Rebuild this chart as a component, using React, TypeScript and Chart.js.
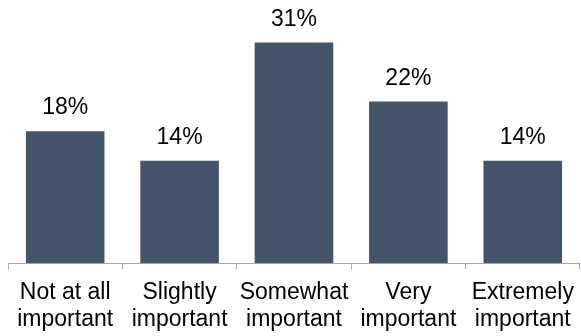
import React, { useEffect, useRef } from "react";
import { Chart, registerables } from "chart.js";

Chart.register(...registerables);

const categories: string[][] = [
  ["Not at all", "important"],
  ["Slightly", "important"],
  ["Somewhat", "important"],
  ["Very", "important"],
  ["Extremely", "important"],
];
const values: number[] = [18.3, 14.2, 30.6, 22.4, 14.2];
const valueLabels: string[] = ["18%", "14%", "31%", "22%", "14%"];

const FONT = "'Liberation Sans', Arial, sans-serif";

const barLabels = {
  id: "barLabels",
  afterDatasetsDraw(chart: any) {
    const ctx = chart.ctx;
    const meta = chart.getDatasetMeta(0);
    ctx.save();
    ctx.font = `23px ${FONT}`;
    ctx.fillStyle = "#000000";
    ctx.textAlign = "center";
    ctx.textBaseline = "alphabetic";
    meta.data.forEach((el: any, i: number) => {
      ctx.fillText(valueLabels[i], el.x, el.y - 17);
    });
    ctx.restore();
  },
};

export default function App() {
  const ref = useRef<HTMLCanvasElement | null>(null);
  useEffect(() => {
    if (!ref.current) return;
    const chart = new Chart(ref.current, {
      type: "bar",
      data: {
        labels: categories,
        datasets: [
          {
            data: values,
            backgroundColor: "#44546A",
            borderWidth: 0,
            barPercentage: 0.687,
            categoryPercentage: 1,
          },
        ],
      },
      options: {
        animation: false,
        responsive: false,
        layout: { padding: { left: 8, right: 1, top: 0, bottom: 0 } },
        plugins: { legend: { display: false }, tooltip: { enabled: false } },
        scales: {
          y: { display: false, min: 0, max: 36.5 },
          x: {
            grid: {
              display: true,
              drawOnChartArea: false,
              drawTicks: true,
              tickLength: 6,
              color: "#A6A6A6",
              offset: true,
            },
            border: { display: true, color: "#A6A6A6" },
            ticks: {
              color: "#000000",
              font: { family: FONT, size: 23, lineHeight: 27 / 23 },
              padding: 10,
              maxRotation: 0,
              autoSkip: false,
            },
          },
        },
      },
      plugins: [barLabels],
    });
    return () => chart.destroy();
  }, []);
  return (
    <div style={{ position: "fixed", left: 0, top: 0, width: 581, height: 336, overflow: "hidden", background: "#fff" }}>
      <canvas ref={ref} width={584} height={343} style={{ display: "block" }} />
    </div>
  );
}
